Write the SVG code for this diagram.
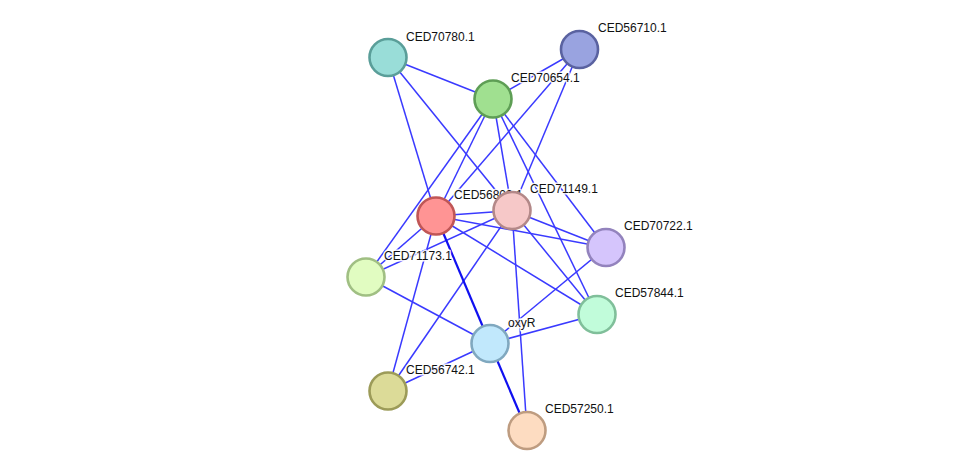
<svg xmlns="http://www.w3.org/2000/svg" width="976" height="476" viewBox="0 0 976 476">
<style>
.e{stroke:#3a3aff;stroke-width:1.5;fill:none}
.s{stroke:#1010f0;stroke-width:2.2;fill:none}
.n{stroke-width:2.6}
.t{font-family:"Liberation Sans",Arial,sans-serif;font-size:12px;fill:#111;stroke:#fff;stroke-width:3;stroke-opacity:0.85;paint-order:stroke;stroke-linejoin:round}
</style>
<rect width="976" height="476" fill="#fff"/>
<g id="edges">
<line class="e" x1="388" y1="57.5" x2="493" y2="99"/>
<line class="e" x1="388" y1="57.5" x2="436" y2="216"/>
<line class="e" x1="388" y1="57.5" x2="512" y2="210.5"/>
<line class="e" x1="579.5" y1="49.5" x2="493" y2="99"/>
<line class="e" x1="579.5" y1="49.5" x2="436" y2="216"/>
<line class="e" x1="579.5" y1="49.5" x2="512" y2="210.5"/>
<line class="e" x1="493" y1="99" x2="366" y2="277"/>
<line class="e" x1="493" y1="99" x2="436" y2="216"/>
<line class="e" x1="493" y1="99" x2="512" y2="210.5"/>
<line class="e" x1="493" y1="99" x2="606" y2="247.5"/>
<line class="e" x1="493" y1="99" x2="597" y2="314.5"/>
<line class="e" x1="436" y1="216" x2="512" y2="210.5"/>
<line class="e" x1="436" y1="216" x2="606" y2="247.5"/>
<line class="e" x1="436" y1="216" x2="597" y2="314.5"/>
<line class="e" x1="436" y1="216" x2="366" y2="277"/>
<line class="e" x1="436" y1="216" x2="388" y2="391"/>
<line class="e" x1="512" y1="210.5" x2="606" y2="247.5"/>
<line class="e" x1="512" y1="210.5" x2="597" y2="314.5"/>
<line class="e" x1="512" y1="210.5" x2="366" y2="277"/>
<line class="e" x1="512" y1="210.5" x2="388" y2="391"/>
<line class="e" x1="512" y1="210.5" x2="527" y2="430.5"/>
<line class="e" x1="366" y1="277" x2="490" y2="343.5"/>
<line class="e" x1="490" y1="343.5" x2="597" y2="314.5"/>
<line class="e" x1="490" y1="343.5" x2="606" y2="247.5"/>
<line class="e" x1="490" y1="343.5" x2="388" y2="391"/>
<line class="s" x1="436" y1="216" x2="490" y2="343.5"/>
<line class="s" x1="490" y1="343.5" x2="527" y2="430.5"/>
</g>
<g id="CED70780.1">
<circle class="n" cx="388" cy="57.5" r="18.5" fill="#99ddd8" stroke="#5a9e99"/>
<text class="t" x="406" y="40.5">CED70780.1</text>
</g>
<g id="CED56710.1">
<circle class="n" cx="579.5" cy="49.5" r="18.5" fill="#99a3e0" stroke="#5a62a0"/>
<text class="t" x="598" y="32">CED56710.1</text>
</g>
<g id="CED70654.1">
<circle class="n" cx="493" cy="99" r="18.5" fill="#a0e090" stroke="#5e9e55"/>
<text class="t" x="511" y="82">CED70654.1</text>
</g>
<g id="CED56809.1">
<circle class="n" cx="436" cy="216" r="18.5" fill="#ff9494" stroke="#c05656"/>
<text class="t" x="454" y="199">CED56809.1</text>
</g>
<g id="CED71149.1">
<circle class="n" cx="512" cy="210.5" r="18.5" fill="#f6c8c8" stroke="#b38888"/>
<text class="t" x="530" y="193">CED71149.1</text>
</g>
<g id="CED70722.1">
<circle class="n" cx="606" cy="247.5" r="18.5" fill="#d5c5fc" stroke="#9383bd"/>
<text class="t" x="624" y="230">CED70722.1</text>
</g>
<g id="CED71173.1">
<circle class="n" cx="366" cy="277" r="18.5" fill="#e1fcc1" stroke="#a0bf83"/>
<text class="t" x="384" y="259.5">CED71173.1</text>
</g>
<g id="CED57844.1">
<circle class="n" cx="597" cy="314.5" r="18.5" fill="#c1fcda" stroke="#80bf9a"/>
<text class="t" x="615" y="297">CED57844.1</text>
</g>
<g id="oxyR">
<circle class="n" cx="490" cy="343.5" r="18.5" fill="#c1e8fc" stroke="#80a8bf"/>
<text class="t" x="508" y="326.5">oxyR</text>
</g>
<g id="CED56742.1">
<circle class="n" cx="388" cy="391" r="18.5" fill="#dcdb98" stroke="#9c9b58"/>
<text class="t" x="406" y="373.5">CED56742.1</text>
</g>
<g id="CED57250.1">
<circle class="n" cx="527" cy="430.5" r="18.5" fill="#fddcc1" stroke="#be9c80"/>
<text class="t" x="545" y="413">CED57250.1</text>
</g>
</svg>
